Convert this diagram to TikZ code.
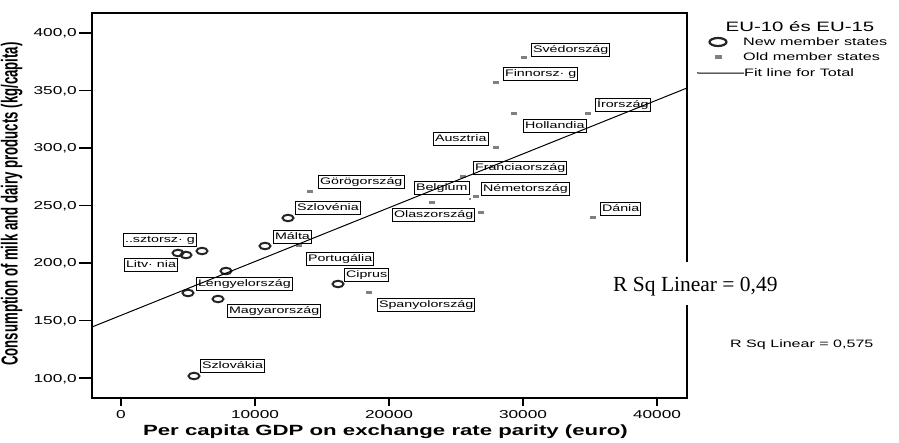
\documentclass[tikz,border=0pt]{standalone}
\usepackage{graphicx}
\usepackage{fontspec}
\setmainfont{Liberation Sans}[FakeStretch=1.5]
\newfontfamily\plainsans{Liberation Sans}
\newfontfamily\serifrm{Liberation Serif}
\usetikzlibrary{shapes.geometric}

\begin{document}
\begin{tikzpicture}[x=1pt,y=-1pt,
  frame/.style={line width=1.4pt},
  tickmark/.style={line width=1.2pt},
  ticklbl/.style={inner sep=0pt,font=\fontsize{11.5}{12}\selectfont},
  newpt/.style={ellipse,draw=black!85,line width=2pt,minimum width=11pt,minimum height=6.5pt,inner sep=0pt},
  oldpt/.style={rectangle,fill=black!50,minimum width=6pt,minimum height=3pt,inner sep=0pt},
  lbl/.style={draw,fill=white,line width=0.9pt,anchor=north west,inner xsep=1.6pt,inner ysep=2pt,
    text height=7pt,text depth=2pt,font=\fontsize{9.5}{10}\selectfont},
  fitline/.style={line width=1pt},
  legtxt/.style={anchor=base west,inner sep=0pt,font=\fontsize{10.8}{12}\selectfont}]

\useasboundingbox (0,0) rectangle (899,443);

% plot frame
\draw[frame] (92,13) rectangle (687,398);

% y axis ticks and values
\foreach \v/\yy in {{400,0}/33,{350,0}/90.5,{300,0}/148,{250,0}/205.5,{200,0}/263,{150,0}/320.5,{100,0}/378}{
  \draw[tickmark] (79,\yy) -- (92,\yy);
  \node[ticklbl,anchor=base east] at (77,\yy+4) {\v};
}
% x axis ticks and values
\foreach \g/\xx in {0/121,10000/255,20000/389,30000/523,40000/657}{
  \draw[tickmark] (\xx,398) -- (\xx,406);
  \node[ticklbl,anchor=base] at (\xx,418) {\g};
}

% axis titles
\node[rotate=90,anchor=base,inner sep=0pt] (ylab) at (17.5,204)
  {\plainsans\bfseries\fontsize{13.2}{14}\selectfont\scalebox{1}[1.75]{Consumption of milk and dairy products (kg/capita)}};
\node[anchor=base,inner sep=0pt] (xlab) at (385.5,435)
  {\bfseries\fontsize{14.8}{16}\selectfont Per capita GDP on exchange rate parity (euro)};

% point labels
\node[lbl] (l-sve) at (531,43) {Svédország};
\node[lbl] (l-fin) at (503,67) {Finnorsz· g};
\node[lbl] (l-iro) at (595,98) {Írország};
\node[lbl] (l-hol) at (523,119) {Hollandia};
\node[lbl] (l-aus) at (433,132) {Ausztria};
\node[lbl] (l-fra) at (473,161) {Franciaország};
\node[lbl] (l-gor) at (318,175) {Görögország};
\node[lbl] (l-bel) at (414,181) {Belgium};
\node[lbl] (l-nem) at (481,182) {Németország};
\node[lbl] (l-szn) at (295,201) {Szlovénia};
\node[lbl] (l-dan) at (600,202) {Dánia};
\node[lbl] (l-ola) at (392,208) {Olaszország};
\node[lbl] (l-mal) at (273,230) {Málta};
\node[lbl] (l-esz) at (123,233) {..sztorsz· g};
\node[lbl] (l-por) at (306,252) {Portugália};
\node[lbl] (l-lit) at (124,258) {Litv· nia};
\node[lbl] (l-cip) at (344,268) {Ciprus};
\node[lbl] (l-len) at (196,277) {Lengyelország};
\node[lbl] (l-spa) at (377,298) {Spanyolország};
\node[lbl] (l-mag) at (227,304) {Magyarország};
\node[lbl] (l-szk) at (200,359) {Szlovákia};

% old member states
\node[oldpt] (o1) at (524,58) {};
\node[oldpt] (o2) at (496,83) {};
\node[oldpt] (o3) at (514,114) {};
\node[oldpt] (o4) at (588,114) {};
\node[oldpt] (o5) at (496,148) {};
\node[oldpt] (o6) at (463,177) {};
\node[oldpt] (o7) at (310,192) {};
\node[oldpt] (o8) at (432,203) {};
\node[oldpt] (o9) at (476,197) {};
\node[oldpt,minimum width=2pt,minimum height=2pt] (o10) at (470,199) {};
\node[oldpt] (o11) at (481,213) {};
\node[oldpt] (o12) at (593,218) {};
\node[oldpt] (o13) at (299,246) {};
\node[oldpt] (o14) at (369,293) {};

% new member states
\node[newpt] (n1) at (288,218) {};
\node[newpt] (n2) at (265,246) {};
\node[newpt] (n3) at (202,251) {};
\node[newpt] (n4) at (178,253) {};
\node[newpt] (n5) at (186,255) {};
\node[newpt] (n6) at (226,271) {};
\node[newpt] (n7) at (188,293) {};
\node[newpt] (n8) at (218,299) {};
\node[newpt] (n9) at (338,284) {};
\node[newpt] (n10) at (194,376) {};

% fit line for total
\coordinate (fitA) at (92,327);
\coordinate (fitB) at (687,88);
\draw[fitline] (fitA) -- (fitB);

% R squared annotations
\node[anchor=base west,fill=white,inner xsep=0pt,inner ysep=11pt,text height=19pt,text depth=2pt,
  font=\serifrm\fontsize{21.5}{22}\selectfont] (rsq1) at (613,292) {R Sq Linear = 0,49};
\node[legtxt,font=\fontsize{10.7}{12}\selectfont] (rsq2) at (730,348) {R Sq Linear = 0,575};

% legend
\node[anchor=base,inner sep=0pt,font=\fontsize{13.6}{14}\selectfont] (legtitle) at (800,32) {EU-10 és EU-15};
\node[ellipse,draw=black!85,line width=2.2pt,minimum width=17pt,minimum height=8pt,inner sep=0pt] (legnew) at (718,42) {};
\node[legtxt] (legnewtxt) at (743,46) {New member states};
\node[rectangle,fill=black!50,minimum width=7pt,minimum height=4pt,inner sep=0pt] (legold) at (718,57) {};
\node[legtxt] (legoldtxt) at (743,61) {Old member states};
\coordinate (legA) at (697,73);
\node[legtxt] (legfittxt) at (744,77) {Fit line for Total};
\draw[fitline] (legA) -- (legfittxt.west);
\end{tikzpicture}
\end{document}
